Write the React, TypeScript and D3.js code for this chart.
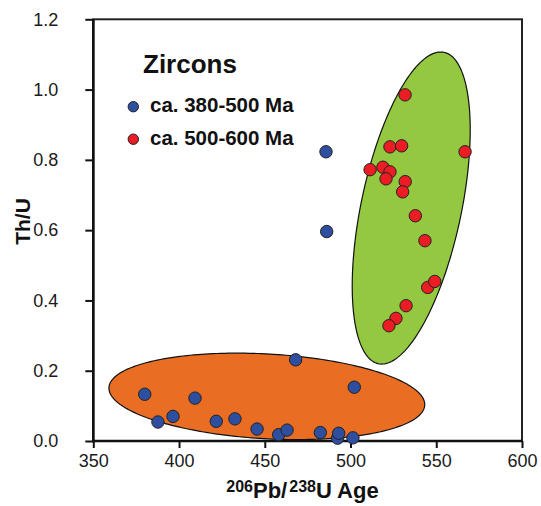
import { useRef, useEffect } from 'react';
import * as d3 from 'd3';

// ca. 380-500 Ma zircons (blue)
const OLD_AGE = [485.7, 486.1, 380.0, 387.7, 396.5, 409.3, 421.7, 432.6, 468.0, 502.2, 445.5, 458.1, 463.0, 482.4, 492.5, 493.1, 501.4];
const OLD_THU = [0.823, 0.596, 0.133, 0.054, 0.070, 0.122, 0.056, 0.063, 0.231, 0.153, 0.034, 0.018, 0.031, 0.024, 0.008, 0.022, 0.009];

// ca. 500-600 Ma zircons (red)
const YOUNG_AGE = [531.8, 523.0, 529.8, 566.8, 511.4, 518.9, 523.0, 520.7, 531.9, 530.4, 537.8, 543.4, 545.0, 549.1, 532.4, 526.5, 522.4];
const YOUNG_THU = [0.985, 0.837, 0.840, 0.823, 0.772, 0.779, 0.766, 0.746, 0.738, 0.709, 0.641, 0.570, 0.437, 0.454, 0.385, 0.349, 0.328];

// field ellipses: centre, offset to topmost point, half width at centre height (data units)
const ORANGE_CENTER = [451.2, 0.127];
const ORANGE_TOP = [-17.5, 0.123];
const ORANGE_HALF_WIDTH = 90.4;
const GREEN_CENTER = [535.4, 0.663];
const GREEN_TOP = [17.2, 0.444];
const GREEN_HALF_WIDTH = 29.8;

const X_TICKS = [350, 400, 450, 500, 550, 600];
const Y_TICKS = [0, 0.2, 0.4, 0.6, 0.8, 1.0, 1.2];
const LEGEND_LABELS = ['ca. 380-500 Ma', 'ca. 500-600 Ma'];

const BLUE = '#2e4f9f';
const RED = '#ec1c24';
const FONT = 'Liberation Sans, Arial, sans-serif';

function ellipsePoints(center: number[], top: number[], halfWidth: number) {
  return d3.range(0, Math.PI * 2, Math.PI / 120).map((t) => [
    center[0] + top[0] * Math.cos(t) + halfWidth * Math.sin(t),
    center[1] + top[1] * Math.cos(t),
  ]);
}

export default function App() {
  const svgRef = useRef<SVGSVGElement>(null);
  const width = 541;
  const height = 506;

  useEffect(() => {
    if (!svgRef.current) return;
    const svg = d3.select(svgRef.current);
    svg.selectAll('*').remove();

    const left = 93.3;
    const right = 522;
    const top = 19.3;
    const bottom = 441;

    const x = d3.scaleLinear().domain([350, 600]).range([left, right]);
    const y = d3.scaleLinear().domain([0, 1.2]).range([bottom, top]);

    // Ellipse fields
    const line = d3.line<number[]>()
      .x((d) => x(d[0]))
      .y((d) => y(d[1]))
      .curve(d3.curveLinearClosed);

    svg.append('path')
      .attr('d', line(ellipsePoints(ORANGE_CENTER, ORANGE_TOP, ORANGE_HALF_WIDTH)))
      .attr('fill', '#e96e24')
      .attr('stroke', '#111')
      .attr('stroke-width', 1.2);

    svg.append('path')
      .attr('d', line(ellipsePoints(GREEN_CENTER, GREEN_TOP, GREEN_HALF_WIDTH)))
      .attr('fill', '#93c840')
      .attr('stroke', '#111')
      .attr('stroke-width', 1.2);

    // Frame
    svg.append('rect')
      .attr('x', left)
      .attr('y', top)
      .attr('width', right - left)
      .attr('height', bottom - top)
      .attr('fill', 'none')
      .attr('stroke', '#222')
      .attr('stroke-width', 2);

    svg.append('path')
      .attr('d', `M${left},${top}V${bottom}H${right}`)
      .attr('fill', 'none')
      .attr('stroke', '#111')
      .attr('stroke-width', 2.6);

    // Axes
    const xAxis = svg.append('g')
      .attr('transform', `translate(0,${bottom})`)
      .call(d3.axisBottom(x).tickValues(X_TICKS).tickSize(7).tickPadding(6).tickFormat(d3.format('d')));
    const yAxis = svg.append('g')
      .attr('transform', `translate(${left},0)`)
      .call(d3.axisLeft(y).tickValues(Y_TICKS).tickSize(8).tickPadding(27).tickFormat(d3.format('.1f')));

    [xAxis, yAxis].forEach((a) => {
      a.select('.domain').remove();
      a.selectAll('line').attr('stroke', '#111').attr('stroke-width', 2);
      a.selectAll('text')
        .attr('fill', '#1a1a1a')
        .attr('font-size', 18)
        .attr('font-family', FONT);
    });

    // Points
    const drawDots = (ages: number[], thus: number[], color: string) => {
      svg.append('g')
        .selectAll('circle')
        .data(ages.map((a, i) => [a, thus[i]]))
        .join('circle')
        .attr('cx', (d) => x(d[0]))
        .attr('cy', (d) => y(d[1]))
        .attr('r', 6.2)
        .attr('fill', color)
        .attr('stroke', '#222')
        .attr('stroke-width', 1);
    };
    drawDots(OLD_AGE, OLD_THU, BLUE);
    drawDots(YOUNG_AGE, YOUNG_THU, RED);

    // Legend
    svg.append('text')
      .attr('x', 143)
      .attr('y', 73)
      .attr('font-size', 26)
      .attr('font-weight', 700)
      .attr('font-family', FONT)
      .attr('fill', '#111')
      .text('Zircons');

    LEGEND_LABELS.forEach((label, i) => {
      const g = svg.append('g').attr('transform', `translate(0,${i * 32.5})`);
      g.append('circle')
        .attr('cx', 133.3)
        .attr('cy', 106.7)
        .attr('r', 5.2)
        .attr('fill', i === 0 ? BLUE : RED)
        .attr('stroke', '#222')
        .attr('stroke-width', 1);
      g.append('text')
        .attr('x', 150)
        .attr('y', 112)
        .attr('font-size', 20.5)
        .attr('font-weight', 700)
        .attr('font-family', FONT)
        .attr('fill', '#111')
        .text(label);
    });

    // Axis titles
    svg.append('text')
      .attr('transform', 'translate(30,221.5) rotate(-90)')
      .attr('text-anchor', 'middle')
      .attr('font-size', 21)
      .attr('font-weight', 700)
      .attr('font-family', FONT)
      .attr('fill', '#111')
      .text('Th/U');

    const xt = svg.append('text')
      .attr('x', 302.5)
      .attr('y', 498)
      .attr('text-anchor', 'middle')
      .attr('font-size', 22)
      .attr('font-weight', 700)
      .attr('font-family', FONT)
      .attr('fill', '#111');
    xt.append('tspan').attr('font-size', 16).attr('dy', -6).text('206');
    xt.append('tspan').attr('dy', 6).text('Pb/');
    xt.append('tspan').attr('font-size', 16).attr('dy', -6).attr('dx', 2).text('238');
    xt.append('tspan').attr('dy', 6).text('U Age');
  }, []);

  return (
    <div style={{ position: 'absolute', left: 0, top: 0, background: '#fff' }}>
      <svg ref={svgRef} width={width} height={height} style={{ display: 'block' }} />
    </div>
  );
}
